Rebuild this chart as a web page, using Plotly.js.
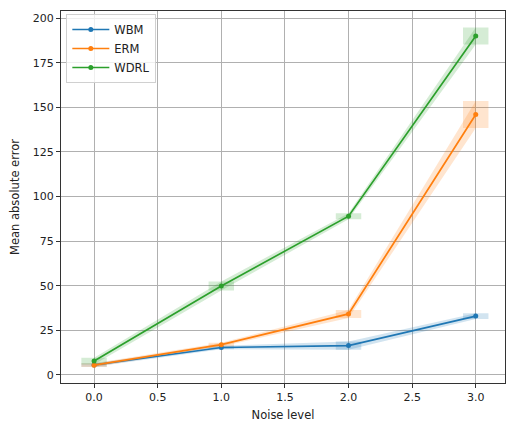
<!DOCTYPE html>
<html>
<head>
<meta charset="utf-8">
<script src="https://cdn.plot.ly/plotly-3.0.1.min.js"></script>
<style>html,body{margin:0;padding:0;background:#fff;}#chart{width:506px;height:422px;}</style>
</head>
<body>
<div id="chart"></div>
<script>
const noise = [0, 1, 2, 3];
const seriesNames = ["WBM", "ERM", "WDRL"];
const wbmMean = [5.6, 15.4, 16.5, 33.0];
const wbmStd = [1.0, 1.0, 2.3, 1.6];
const ermMean = [5.5, 17.0, 34.2, 146.0];
const ermStd = [1.0, 1.0, 2.2, 7.6];
const wdrlMean = [7.8, 49.9, 89.0, 190.0];
const wdrlStd = [1.9, 2.5, 1.7, 4.8];
const xTicks = [0, 0.5, 1, 1.5, 2, 2.5, 3];
const yTicks = [0, 25, 50, 75, 100, 125, 150, 175, 200];

const colors = ["#1f77b4", "#ff7f0e", "#2ca02c"];
const fills = ["rgba(31,119,180,0.2)", "rgba(255,127,14,0.2)", "rgba(44,160,44,0.2)"];
const boxHalf = 0.1;

const means = [wbmMean, ermMean, wdrlMean];
const stds = [wbmStd, ermStd, wdrlStd];
const traces = [];

means.forEach((m, i) => {
  const s = stds[i];
  const upper = m.map((v, k) => v + s[k]);
  const lower = m.map((v, k) => v - s[k]);
  traces.push({
    x: noise.concat(noise.slice().reverse()),
    y: upper.concat(lower.slice().reverse()),
    type: "scatter", mode: "lines", fill: "toself",
    fillcolor: fills[i], line: {width: 0}, hoverinfo: "skip", showlegend: false
  });
  const bx = [], by = [];
  noise.forEach((x, k) => {
    bx.push(x - boxHalf, x + boxHalf, x + boxHalf, x - boxHalf, x - boxHalf, null);
    by.push(lower[k], lower[k], upper[k], upper[k], lower[k], null);
  });
  traces.push({
    x: bx, y: by, type: "scatter", mode: "lines", fill: "toself",
    fillcolor: fills[i], line: {width: 0}, hoverinfo: "skip", showlegend: false
  });
});

means.forEach((m, i) => {
  traces.push({
    x: noise, y: m, name: seriesNames[i],
    type: "scatter", mode: "lines+markers",
    line: {color: colors[i], width: 1.7},
    marker: {color: colors[i], size: 5}
  });
});

const axisCommon = {
  showgrid: true, gridcolor: "#b0b0b0", gridwidth: 1,
  zeroline: false, showline: true, mirror: true,
  linecolor: "#333", linewidth: 1,
  ticks: "outside", ticklen: 4, tickcolor: "#333",
  tickfont: {family: "DejaVu Sans", size: 11, color: "#222"}
};

const layout = {
  width: 506, height: 422,
  margin: {l: 61, r: 1, t: 11, b: 39},
  paper_bgcolor: "#fff", plot_bgcolor: "#fff",
  font: {family: "DejaVu Sans", color: "#222"},
  xaxis: Object.assign({}, axisCommon, {
    range: [-0.26, 3.23], tickvals: xTicks,
    ticktext: xTicks.map(v => v.toFixed(1)),
    title: {text: "Noise level", font: {family: "DejaVu Sans", size: 11.5, color: "#222"}, standoff: 8}
  }),
  yaxis: Object.assign({}, axisCommon, {
    range: [-4.5, 204], tickvals: yTicks,
    title: {text: "Mean absolute error", font: {family: "DejaVu Sans", size: 11.5, color: "#222"}, standoff: 10}
  }),
  legend: {
    x: 0.012, y: 0.992, xanchor: "left", yanchor: "top",
    bgcolor: "rgba(255,255,255,0.8)", bordercolor: "#d0d0d0", borderwidth: 1,
    font: {family: "DejaVu Sans", size: 11.5, color: "#222"},
    tracegroupgap: 0, itemwidth: 37
  },
  showlegend: true
};

Plotly.newPlot("chart", traces, layout, {staticPlot: true, displayModeBar: false});
</script>
</body>
</html>
